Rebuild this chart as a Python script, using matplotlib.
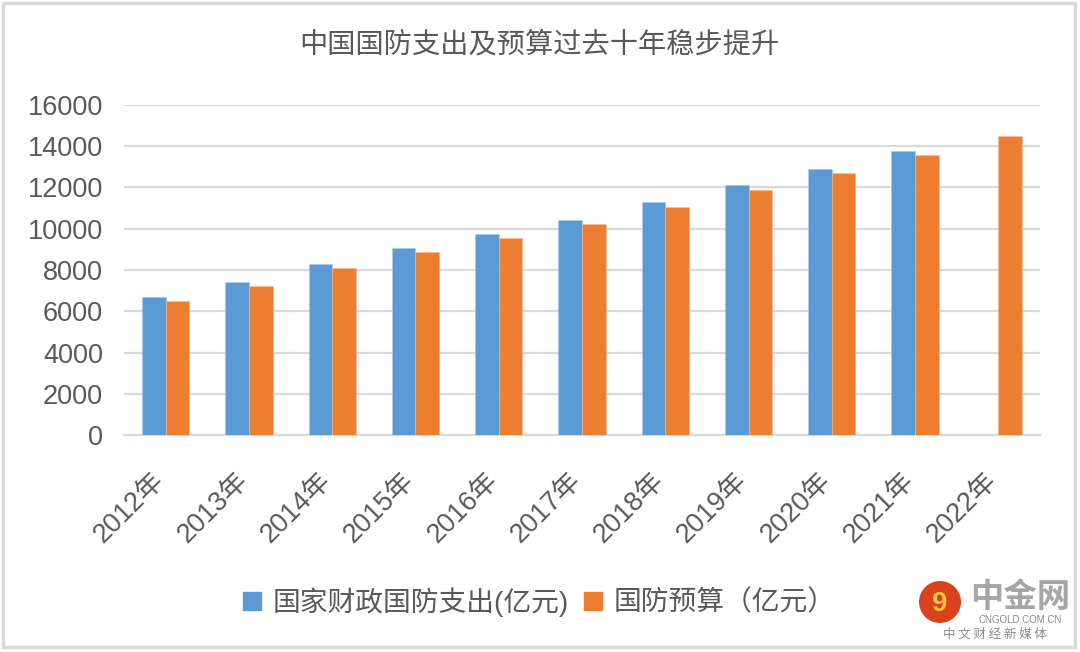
import matplotlib
matplotlib.use("Agg")
import matplotlib.pyplot as plt
from matplotlib.patches import Rectangle, Ellipse
from matplotlib.lines import Line2D
from matplotlib.transforms import ScaledTranslation
import numpy as np

plt.rcParams['font.family'] = ['Liberation Sans', 'Noto Sans CJK SC', 'DejaVu Sans']

# données (亿元)
years = ['2012年', '2013年', '2014年', '2015年', '2016年', '2017年',
         '2018年', '2019年', '2020年', '2021年', '2022年']
spending = [6691, 7410, 8289, 9087, 9765, 10432, 11280, 12122, 12918, 13787, np.nan]
budget = [6503, 7202, 8082, 8869, 9543, 10226, 11069, 11899, 12680, 13553, 14505]

title = '中国国防支出及预算过去十年稳步提升'
label_spending = '国家财政国防支出(亿元)'
label_budget = '国防预算（亿元）'

blue = '#5B9BD5'
orange = '#ED7D31'
grey_txt = '#595959'
grid_c = '#d9d9d9'

fig = plt.figure(figsize=(10.8, 6.52), dpi=100)
ax = fig.add_axes([0.1148, 0.3328, 0.963 - 0.1148, 0.839 - 0.3328])

x = np.arange(len(years))
w = 0.284
ax.bar(x - w / 2, spending, width=w, color=blue, edgecolor='#a9c9ea', linewidth=0.4, zorder=3)
ax.bar(x + w / 2, budget, width=w, color=orange, edgecolor='#f6bd98', linewidth=0.4, zorder=3)

ax.set_xlim(-0.5, len(years) - 0.5)
ax.set_ylim(0, 16000)
ax.set_yticks(np.arange(0, 16001, 2000))
ax.yaxis.grid(True, color=grid_c, linewidth=1.6, zorder=0)
ax.set_axisbelow(True)
for s in ['top', 'right', 'left']:
    ax.spines[s].set_visible(False)
ax.spines['bottom'].set_color(grid_c)
ax.spines['bottom'].set_linewidth(1.6)

ax.tick_params(axis='y', length=0, pad=15, labelsize=19.5, labelcolor=grey_txt)
ax.tick_params(axis='x', length=0, pad=30, labelsize=19.5, labelcolor=grey_txt)
ax.set_xticks(x)
ax.set_xticklabels(years, rotation=45, ha='right', va='center', rotation_mode='anchor')
shift = ScaledTranslation(-5 / 100, 0, fig.dpi_scale_trans)
for lbl in ax.get_xticklabels():
    lbl.set_transform(lbl.get_transform() + shift)

fig.text(0.499, 0.931, title, ha='center', va='center', fontsize=20.3, color=grey_txt)

handles = [Line2D([], [], marker='s', linestyle='none', markersize=13, color=blue),
           Line2D([], [], marker='s', linestyle='none', markersize=13, color=orange)]
fig.legend(handles, [label_spending, label_budget], loc='center',
           bbox_to_anchor=(0.499, 0.0767), ncol=2, frameon=False,
           fontsize=20, labelcolor=grey_txt, handlelength=0.7,
           handletextpad=0.4, columnspacing=0.5)

# cadre
fig.patches.append(Rectangle((3 / 1080, 5 / 652), 1072 / 1080, 644 / 652,
                             transform=fig.transFigure, fill=False,
                             edgecolor=grid_c, linewidth=2.5))

# logo 中金网
fig.patches.append(Ellipse((940 / 1080, 1 - 602 / 652), 42 / 1080, 42 / 652,
                           transform=fig.transFigure, facecolor='#d8421c', edgecolor='none'))
fig.text(940 / 1080, 1 - 604 / 652, '9', ha='center', va='center', fontsize=20,
         fontweight='bold', color='#f6c342')
fig.text(1020 / 1080, 1 - 598 / 652, '中金网', ha='center', va='center', fontsize=24,
         fontweight='bold', color='#a6a6a6', family=['Noto Sans CJK SC'])
fig.text(1020 / 1080, 1 - 620 / 652, 'CNGOLD.COM.CN', ha='center', va='center',
         fontsize=7, color='#8c8c8c')
fig.text(995 / 1080, 1 - 634 / 652, '中 文 财 经 新 媒 体', ha='center', va='center',
         fontsize=9, color='#8c8c8c', family=['Noto Sans CJK SC'])

fig.savefig('out.png', dpi=100)
